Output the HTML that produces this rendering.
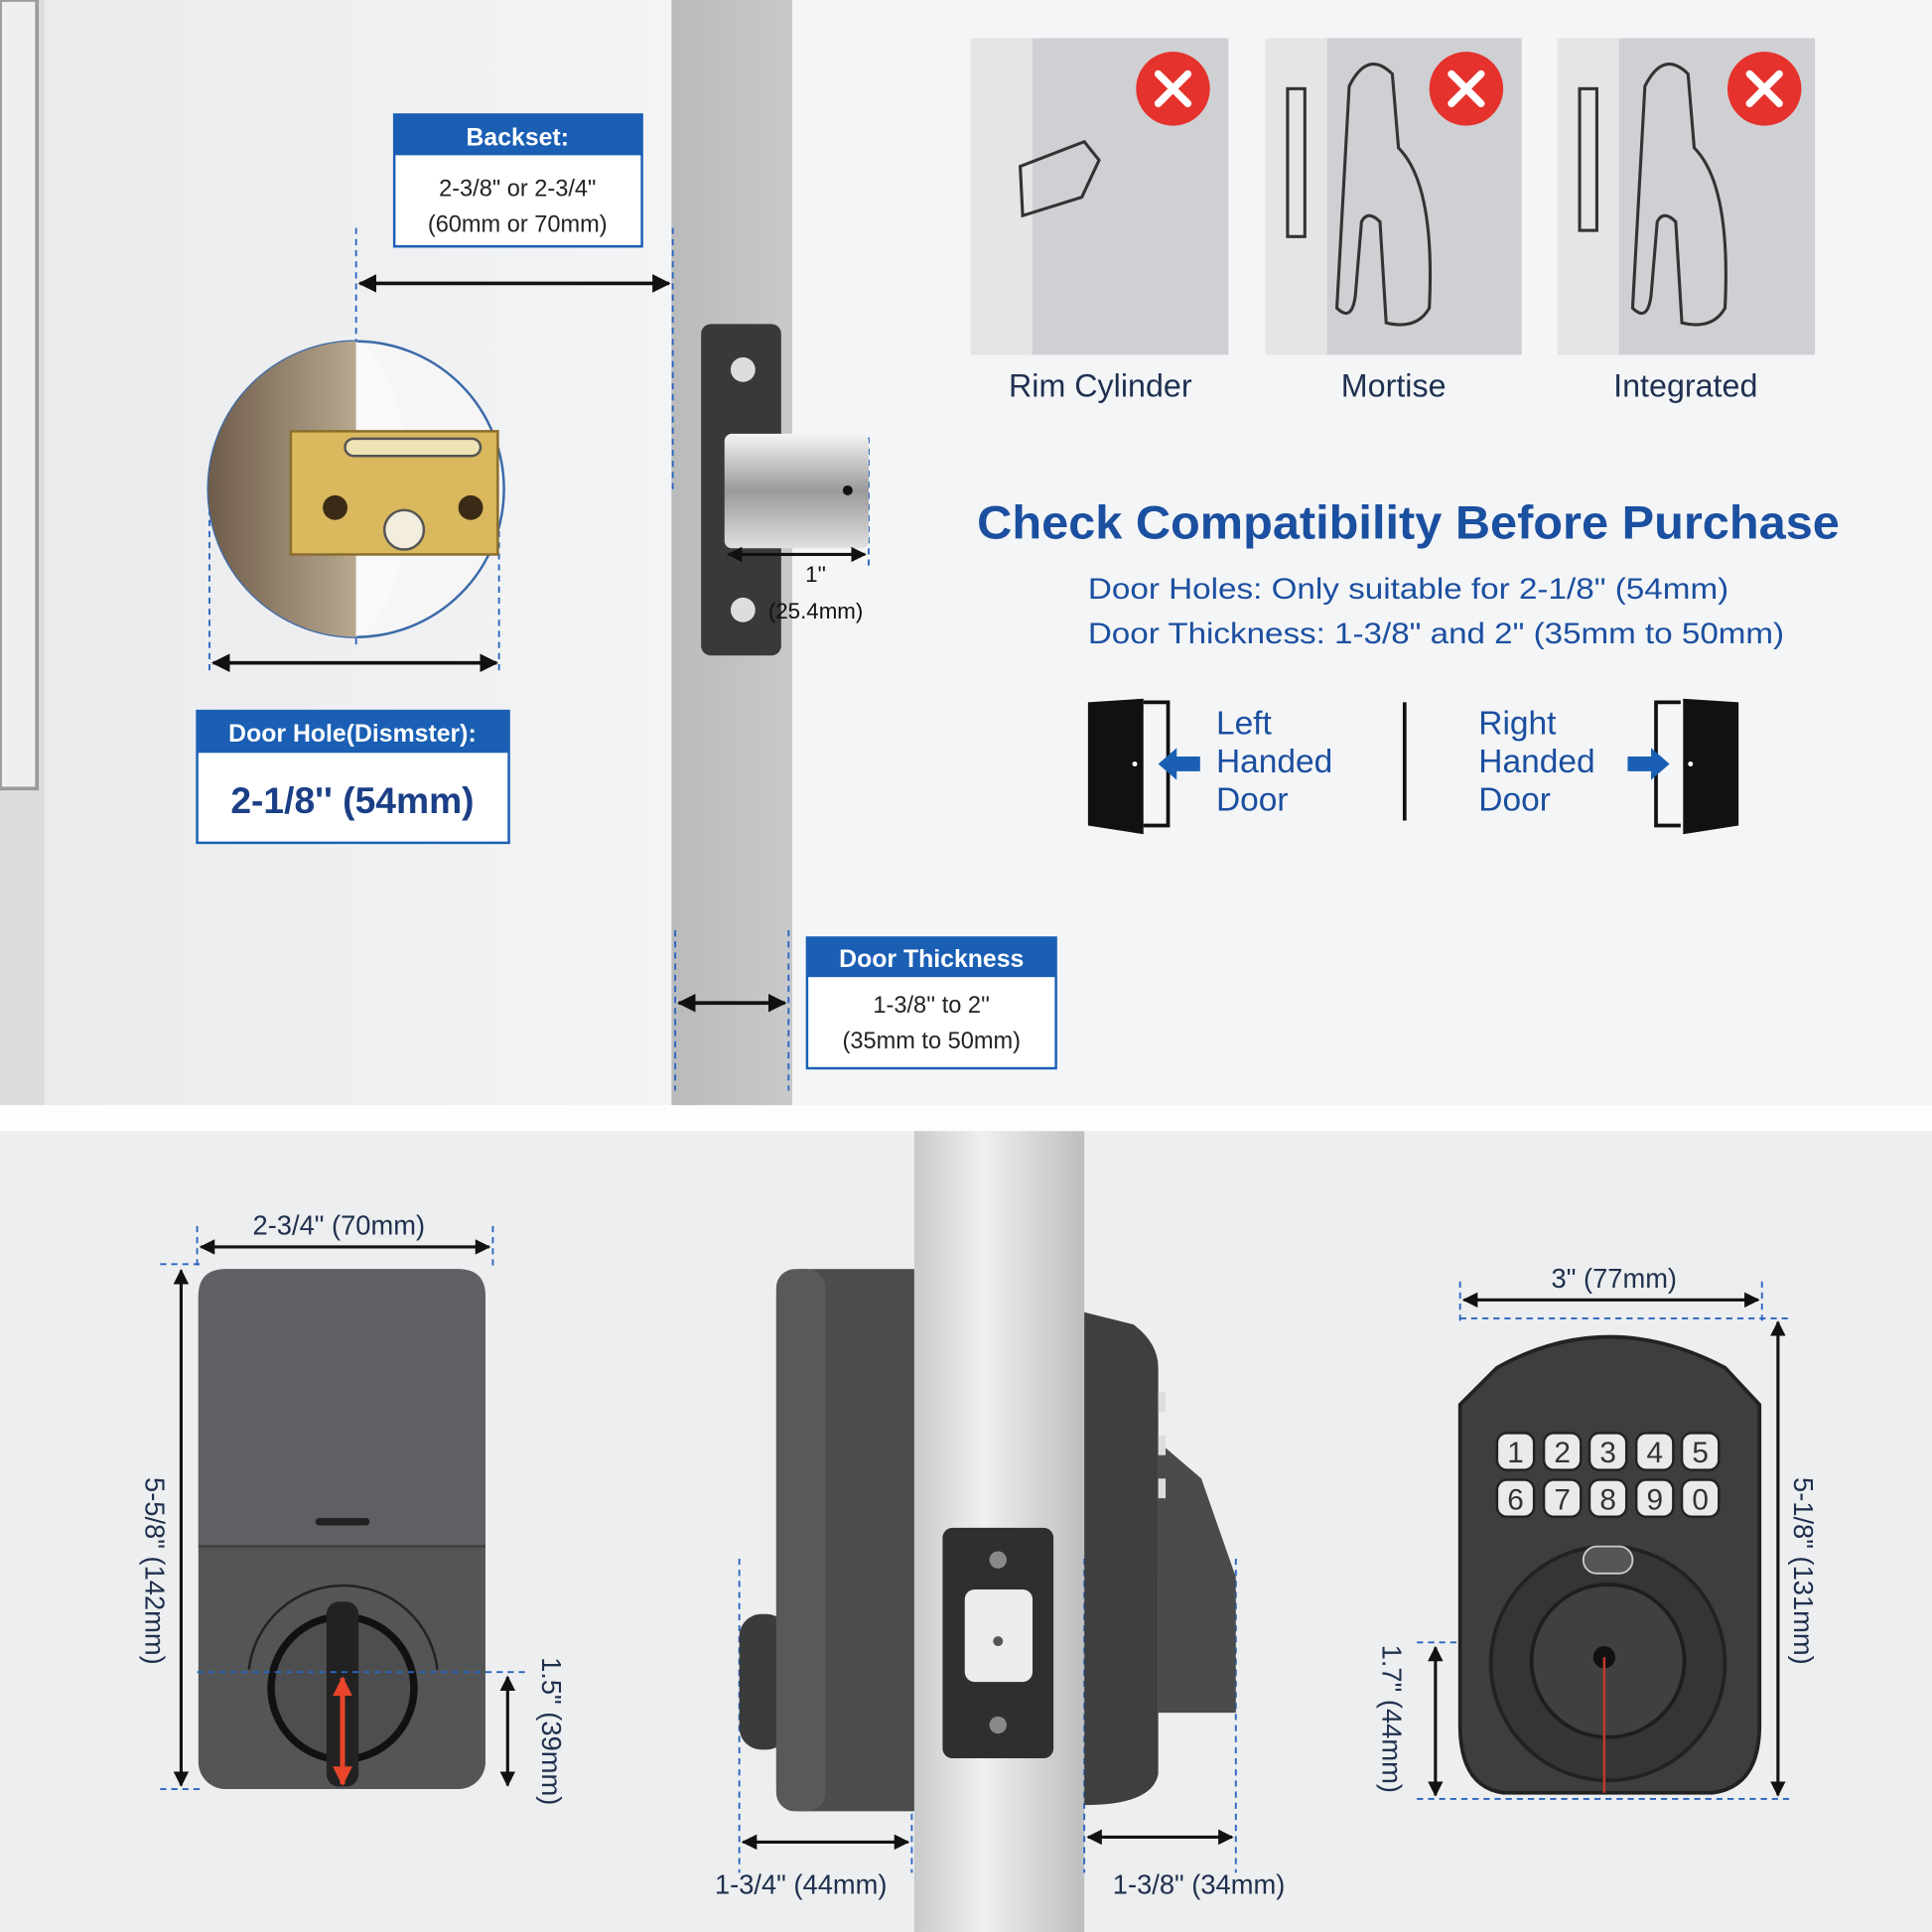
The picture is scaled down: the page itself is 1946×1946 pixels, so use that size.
<!DOCTYPE html>
<html><head><meta charset="utf-8"><style>
html,body{margin:0;padding:0;background:#fff}
svg{display:block}
text{font-family:"Liberation Sans",sans-serif}
</style></head><body>
<svg width="1946" height="1946" viewBox="0 0 1568 1568" xmlns="http://www.w3.org/2000/svg">
<defs>
<linearGradient id="door" x1="0" x2="1"><stop offset="0" stop-color="#e9eaec"/><stop offset="1" stop-color="#f3f4f5"/></linearGradient>
<linearGradient id="edge" x1="0" x2="1"><stop offset="0" stop-color="#b9babc"/><stop offset="1" stop-color="#c8c9cb"/></linearGradient>
<linearGradient id="bolt" x1="0" y1="0" x2="0" y2="1"><stop offset="0" stop-color="#f4f4f4"/><stop offset="0.5" stop-color="#9a9a9c"/><stop offset="1" stop-color="#e0e0e0"/></linearGradient>
<linearGradient id="frame" x1="0" x2="1"><stop offset="0" stop-color="#c9cacc"/><stop offset="0.4" stop-color="#f0f0f1"/><stop offset="1" stop-color="#bdbec0"/></linearGradient>
<linearGradient id="wood" x1="0" x2="1"><stop offset="0" stop-color="#6e5c4a"/><stop offset="1" stop-color="#b9a88f"/></linearGradient>
<marker id="ah" viewBox="0 0 10 10" refX="9" refY="5" markerWidth="5" markerHeight="5" orient="auto-start-reverse"><path d="M0,0 L10,5 L0,10 z" fill="#111"/></marker>
<marker id="ar" viewBox="0 0 10 10" refX="9" refY="5" markerWidth="4" markerHeight="4" orient="auto-start-reverse"><path d="M0,0 L10,5 L0,10 z" fill="#e8452a"/></marker>
</defs>
<rect x="0" y="0" width="1568" height="897" fill="#f4f5f6"/>
<rect x="0" y="0" width="545" height="897" fill="url(#door)"/>
<rect x="0" y="0" width="36" height="897" fill="#dcdddf"/>
<rect x="0" y="0" width="30" height="640" fill="#eeeff0" stroke="#9a9b9d" stroke-width="3"/>
<rect x="545" y="0" width="98" height="897" fill="url(#edge)"/>
<rect x="0" y="897" width="1568" height="21" fill="#fdfdfd"/>
<g stroke="#2a64c0" stroke-width="1.5" stroke-dasharray="5,4">
<line x1="289" y1="185" x2="289" y2="525"/><line x1="546" y1="185" x2="546" y2="400"/>
<line x1="170" y1="395" x2="170" y2="545"/><line x1="405" y1="395" x2="405" y2="545"/>
<line x1="548" y1="755" x2="548" y2="885"/><line x1="640" y1="755" x2="640" y2="885"/>
<line x1="705" y1="355" x2="705" y2="460"/>
</g>
<line x1="292" y1="230" x2="543" y2="230" stroke="#111" stroke-width="3" marker-start="url(#ah)" marker-end="url(#ah)"/>
<line x1="173" y1="538" x2="403" y2="538" stroke="#111" stroke-width="3" marker-start="url(#ah)" marker-end="url(#ah)"/>
<line x1="551" y1="814" x2="637" y2="814" stroke="#111" stroke-width="3" marker-start="url(#ah)" marker-end="url(#ah)"/>
<rect x="320" y="93" width="201" height="107" fill="#fff" stroke="#1a5fb4" stroke-width="2"/>
<rect x="320" y="93" width="201" height="33" fill="#1a5fb4"/>
<text x="420" y="118" font-size="20" font-weight="bold" fill="#fff" text-anchor="middle">Backset:</text>
<text x="420" y="159" font-size="19" fill="#222" text-anchor="middle">2-3/8" or 2-3/4"</text>
<text x="420" y="188" font-size="19" fill="#222" text-anchor="middle">(60mm or 70mm)</text>
<circle cx="289" cy="397" r="120" fill="#f6f6f6" stroke="#3a6aa8" stroke-width="2"/>
<path d="M289,277 A120,120 0 0 0 289,517 Z" fill="url(#wood)"/>
<path d="M289,277 Q330,300 330,397 Q330,494 289,517 Z" fill="#fbfbfb" opacity="0.6"/>
<rect x="236" y="350" width="168" height="100" fill="#d9b85e" stroke="#8a6d2c" stroke-width="2"/>
<rect x="280" y="356" width="110" height="14" rx="7" fill="#efe3b5" stroke="#555" stroke-width="2"/>
<circle cx="272" cy="412" r="10" fill="#3b2a15"/><circle cx="382" cy="412" r="10" fill="#3b2a15"/>
<circle cx="328" cy="430" r="16" fill="#f2eddc" stroke="#555" stroke-width="2"/>
<rect x="160" y="577" width="253" height="107" fill="#fff" stroke="#1a5fb4" stroke-width="2"/>
<rect x="160" y="577" width="253" height="34" fill="#1a5fb4"/>
<text x="286" y="602" font-size="20" font-weight="bold" fill="#fff" text-anchor="middle">Door Hole(Dismster):</text>
<text x="286" y="660" font-size="30" font-weight="bold" fill="#1b3f86" text-anchor="middle">2-1/8'' (54mm)</text>
<rect x="569" y="263" width="65" height="269" rx="8" fill="#38393b"/>
<rect x="588" y="352" width="117" height="93" rx="6" fill="url(#bolt)"/>
<circle cx="603" cy="300" r="10" fill="#ddd"/><circle cx="603" cy="495" r="10" fill="#ddd"/>
<circle cx="688" cy="398" r="4" fill="#111"/>
<line x1="591" y1="450" x2="702" y2="450" stroke="#111" stroke-width="2.5" marker-start="url(#ah)" marker-end="url(#ah)"/>
<text x="662" y="472" font-size="18" fill="#111" text-anchor="middle">1''</text>
<text x="662" y="502" font-size="18" fill="#111" text-anchor="middle">(25.4mm)</text>
<rect x="655" y="761" width="202" height="106" fill="#fff" stroke="#1a5fb4" stroke-width="2"/>
<rect x="655" y="761" width="202" height="32" fill="#1a5fb4"/>
<text x="756" y="785" font-size="20" font-weight="bold" fill="#fff" text-anchor="middle">Door Thickness</text>
<text x="756" y="822" font-size="19" fill="#222" text-anchor="middle">1-3/8'' to 2''</text>
<text x="756" y="851" font-size="19" fill="#222" text-anchor="middle">(35mm to 50mm)</text>
<g>
<rect x="788" y="31" width="209" height="257" fill="#cfd0d3"/><rect x="788" y="31" width="50" height="257" fill="#e4e5e7"/>
<rect x="1027" y="31" width="208" height="257" fill="#cfd0d3"/><rect x="1027" y="31" width="50" height="257" fill="#e4e5e7"/>
<rect x="1264" y="31" width="209" height="257" fill="#cfd0d3"/><rect x="1264" y="31" width="50" height="257" fill="#e4e5e7"/>
<g fill="none" stroke="#333" stroke-width="2.5">
<path d="M828,135 L880,115 L892,130 L878,160 L830,175 Z"/>
<rect x="1045" y="72" width="14" height="120"/><rect x="1282" y="72" width="14" height="115"/>
<path d="M1095,70 Q1110,40 1130,60 L1135,120 Q1165,150 1160,250 Q1150,268 1125,262 L1120,180 Q1110,170 1105,180 L1100,240 Q1097,262 1085,250 Z"/>
<path d="M1335,70 Q1350,40 1370,60 L1375,120 Q1405,150 1400,250 Q1390,268 1365,262 L1360,180 Q1350,170 1345,180 L1340,240 Q1337,262 1325,250 Z"/>
</g>
<g fill="#e5322d"><circle cx="952" cy="72" r="30"/><circle cx="1190" cy="72" r="30"/><circle cx="1432" cy="72" r="30"/></g>
<g stroke="#fff" stroke-width="6" stroke-linecap="round">
<path d="M940,60 L964,84 M964,60 L940,84"/><path d="M1178,60 L1202,84 M1202,60 L1178,84"/><path d="M1420,60 L1444,84 M1444,60 L1420,84"/>
</g>
</g>
<g font-size="26" fill="#1f3050" text-anchor="middle">
<text x="893" y="322">Rim Cylinder</text><text x="1131" y="322">Mortise</text><text x="1368" y="322">Integrated</text>
</g>
<text x="793" y="437" font-size="38" font-weight="bold" fill="#1b4fa0" textLength="700" lengthAdjust="spacingAndGlyphs">Check Compatibility Before Purchase</text>
<text x="883" y="486" font-size="24" fill="#1b4fa0" textLength="520" lengthAdjust="spacingAndGlyphs">Door Holes: Only suitable for 2-1/8" (54mm)</text>
<text x="883" y="522" font-size="24" fill="#1b4fa0" textLength="565" lengthAdjust="spacingAndGlyphs">Door Thickness: 1-3/8" and 2" (35mm to 50mm)</text>
<path d="M883,570 L928,567 L928,677 L883,670 Z" fill="#111"/>
<path d="M928,570 L948,570 L948,670 L928,670" fill="none" stroke="#111" stroke-width="3"/>
<circle cx="921" cy="620" r="2" fill="#fff"/>
<path d="M940,620 L955,607 L955,614 L974,614 L974,626 L955,626 L955,633 Z" fill="#1a5fb4"/>
<g font-size="27" fill="#1b4fa0"><text x="987" y="596">Left</text><text x="987" y="627">Handed</text><text x="987" y="658">Door</text>
<text x="1200" y="596">Right</text><text x="1200" y="627">Handed</text><text x="1200" y="658">Door</text></g>
<line x1="1140" y1="570" x2="1140" y2="666" stroke="#111" stroke-width="3"/>
<path d="M1366,567 L1411,570 L1411,670 L1366,677 Z" fill="#111"/>
<path d="M1364,570 L1344,570 L1344,670 L1364,670" fill="none" stroke="#111" stroke-width="3"/>
<circle cx="1372" cy="620" r="2" fill="#fff"/>
<path d="M1355,620 L1340,607 L1340,614 L1321,614 L1321,626 L1340,626 L1340,633 Z" fill="#1a5fb4"/>
<rect x="0" y="918" width="1568" height="650" fill="#eceeef"/>
<rect x="742" y="918" width="138" height="650" fill="url(#frame)"/>
<rect x="161" y="1030" width="233" height="422" rx="22" fill="#545557"/>
<path d="M183,1030 L372,1030 Q394,1030 394,1052 L394,1255 L161,1255 L161,1052 Q161,1030 183,1030 Z" fill="#5f6063"/>
<line x1="161" y1="1255" x2="394" y2="1255" stroke="#3e3f41" stroke-width="2"/>
<rect x="256" y="1232" width="44" height="6" rx="3" fill="#222"/>
<path d="M202,1355 A77,77 0 0 1 355,1355" fill="none" stroke="#222" stroke-width="2"/>
<circle cx="278" cy="1370" r="58" fill="#4d4e50" stroke="#111" stroke-width="6"/>
<rect x="265" y="1300" width="26" height="150" rx="10" fill="#222"/>
<line x1="278" y1="1362" x2="278" y2="1448" stroke="#e8452a" stroke-width="4" marker-start="url(#ar)" marker-end="url(#ar)"/>
<g stroke="#2a64c0" stroke-width="1.5" stroke-dasharray="5,4">
<line x1="160" y1="995" x2="160" y2="1030"/><line x1="400" y1="995" x2="400" y2="1030"/>
<line x1="130" y1="1026" x2="165" y2="1026"/><line x1="130" y1="1452" x2="165" y2="1452"/>
<line x1="160" y1="1357" x2="430" y2="1357"/>
<line x1="600" y1="1265" x2="600" y2="1520"/><line x1="740" y1="1265" x2="740" y2="1520"/>
<line x1="880" y1="1265" x2="880" y2="1520"/><line x1="1003" y1="1265" x2="1003" y2="1520"/>
<line x1="1185" y1="1040" x2="1185" y2="1075"/><line x1="1430" y1="1040" x2="1430" y2="1075"/>
<line x1="1150" y1="1333" x2="1310" y2="1333"/><line x1="1150" y1="1460" x2="1455" y2="1460"/>
<line x1="1185" y1="1070" x2="1455" y2="1070"/>
</g>
<g stroke="#111" stroke-width="2.5">
<line x1="163" y1="1012" x2="397" y2="1012" marker-start="url(#ah)" marker-end="url(#ah)"/>
<line x1="147" y1="1031" x2="147" y2="1449" marker-start="url(#ah)" marker-end="url(#ah)"/>
<line x1="412" y1="1361" x2="412" y2="1449" marker-start="url(#ah)" marker-end="url(#ah)"/>
<line x1="603" y1="1495" x2="737" y2="1495" marker-start="url(#ah)" marker-end="url(#ah)"/>
<line x1="883" y1="1491" x2="1000" y2="1491" marker-start="url(#ah)" marker-end="url(#ah)"/>
<line x1="1188" y1="1055" x2="1427" y2="1055" marker-start="url(#ah)" marker-end="url(#ah)"/>
<line x1="1443" y1="1073" x2="1443" y2="1457" marker-start="url(#ah)" marker-end="url(#ah)"/>
<line x1="1165" y1="1337" x2="1165" y2="1457" marker-start="url(#ah)" marker-end="url(#ah)"/>
</g>
<g font-size="22" fill="#1f2f4d" text-anchor="middle">
<text x="275" y="1002">2-3/4" (70mm)</text>
<text x="650" y="1537">1-3/4" (44mm)</text>
<text x="973" y="1537">1-3/8" (34mm)</text>
<text x="1310" y="1045">3" (77mm)</text>
<text transform="translate(118,1275) rotate(90)">5-5/8" (142mm)</text>
<text transform="translate(440,1405) rotate(90)">1.5" (39mm)</text>
<text transform="translate(1456,1275) rotate(90)">5-1/8" (131mm)</text>
<text transform="translate(1122,1395) rotate(90)">1.7" (44mm)</text>
</g>
<rect x="600" y="1310" width="40" height="110" rx="18" fill="#3a3b3d"/>
<path d="M650,1030 L742,1030 L742,1470 L650,1470 Q630,1470 630,1450 L630,1050 Q630,1030 650,1030 Z" fill="#4b4c4e"/>
<rect x="630" y="1030" width="40" height="440" rx="15" fill="#58595b"/>
<rect x="765" y="1240" width="90" height="187" rx="8" fill="#2e2f31"/>
<rect x="783" y="1290" width="55" height="75" rx="8" fill="#ececec"/>
<circle cx="810" cy="1332" r="4" fill="#555"/>
<circle cx="810" cy="1266" r="7" fill="#888"/><circle cx="810" cy="1400" r="7" fill="#888"/>
<path d="M880,1065 L920,1075 Q940,1090 940,1110 L940,1440 Q935,1465 880,1465 Z" fill="#3e3f41"/>
<path d="M940,1170 L975,1200 L1003,1280 L1003,1390 L940,1390 Z" fill="#4a4b4d"/>
<rect x="940" y="1130" width="6" height="16" fill="#ddd"/><rect x="940" y="1165" width="6" height="16" fill="#ddd"/><rect x="940" y="1200" width="6" height="16" fill="#ddd"/>
<path d="M1215,1110 Q1305,1060 1400,1110 L1428,1140 L1428,1400 Q1428,1450 1390,1455 L1220,1455 Q1185,1450 1185,1400 L1185,1140 Z" fill="#3d3e40" stroke="#222" stroke-width="3"/>
<circle cx="1305" cy="1350" r="95" fill="#343537" stroke="#222" stroke-width="3"/>
<circle cx="1305" cy="1348" r="62" fill="#3f4042" stroke="#1e1e1f" stroke-width="3"/>
<rect x="1285" y="1255" width="40" height="22" rx="11" fill="#555" stroke="#ccc" stroke-width="1.5"/>
<circle cx="1302" cy="1345" r="9" fill="#111"/>
<line x1="1302" y1="1345" x2="1302" y2="1455" stroke="#c0392b" stroke-width="2"/>
<g fill="#e9eaeb" stroke="#222" stroke-width="2">
<rect x="1215" y="1163" width="30" height="30" rx="8"/><rect x="1253" y="1163" width="30" height="30" rx="8"/><rect x="1290" y="1163" width="30" height="30" rx="8"/><rect x="1328" y="1163" width="30" height="30" rx="8"/><rect x="1365" y="1163" width="30" height="30" rx="8"/>
<rect x="1215" y="1201" width="30" height="30" rx="8"/><rect x="1253" y="1201" width="30" height="30" rx="8"/><rect x="1290" y="1201" width="30" height="30" rx="8"/><rect x="1328" y="1201" width="30" height="30" rx="8"/><rect x="1365" y="1201" width="30" height="30" rx="8"/>
</g>
<g font-size="24" fill="#333" text-anchor="middle">
<text x="1230" y="1187">1</text><text x="1268" y="1187">2</text><text x="1305" y="1187">3</text><text x="1343" y="1187">4</text><text x="1380" y="1187">5</text>
<text x="1230" y="1225">6</text><text x="1268" y="1225">7</text><text x="1305" y="1225">8</text><text x="1343" y="1225">9</text><text x="1380" y="1225">0</text>
</g>
</svg>
</body></html>
